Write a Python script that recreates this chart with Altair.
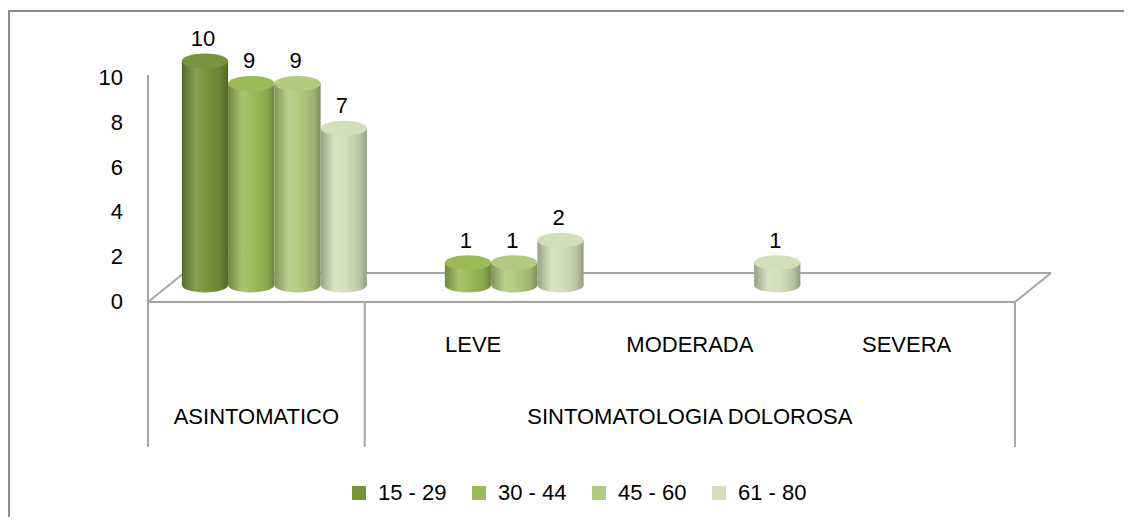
import altair as alt
import pandas as pd

# ---------------- data ----------------
categories = ["ASINTOMATICO", "LEVE", "MODERADA", "SEVERA"]
series = ["15 - 29", "30 - 44", "45 - 60", "61 - 80"]
v_15_29 = [10, 0, 0, 0]
v_30_44 = [9, 1, 0, 0]
v_45_60 = [9, 1, 0, 0]
v_61_80 = [7, 2, 1, 0]
y_ticks = [0, 2, 4, 6, 8, 10]
sub_labels = ["LEVE", "MODERADA", "SEVERA"]
group_labels = ["ASINTOMATICO", "SINTOMATOLOGIA DOLOROSA"]
group_anchor = ["ASINTOMATICO", "MODERADA"]
colors = ["#77933C", "#9BBB59", "#B3CB80", "#D3DFBB"]

values = [v_15_29, v_30_44, v_45_60, v_61_80]
rows = []
for s, vals in zip(series, values):
    for c, v in zip(categories, vals):
        rows.append({"cat": c, "series": s, "value": v})
df = pd.DataFrame(rows)

# ---------------- layout / style ----------------
W, H = 1116, 509
X0, X1 = 140, 1007          # front floor edge (view px)
Y0, YTOP = 294, 70          # value 0 and value 10 (view px)
DX, DY = 36, -29            # 3-D depth of the floor
BX, BY = 18, -17            # cylinders sit at mid depth
SEP_BOTTOM = 439
STEP = (X1 - X0) / 4
XMID = X0 + STEP
FONT = "Liberation Sans"
FS = 22
LINE = "#A6A6A6"
BORDER = "#8C8C8C"
PAD_OUT = 0.343

xs = alt.Scale(domain=categories, range=[X0, X1], paddingInner=0, paddingOuter=0)
# offset scale shifted by the depth offset of the cylinders
xo = alt.Scale(domain=series, range=[BX, BX + STEP], paddingInner=0, paddingOuter=PAD_OUT)
ys = alt.Scale(domain=[0, 10], range=[Y0, YTOP], nice=False, zero=False)


def shade(hx, f):
    hx = hx.lstrip("#")
    r, g, b = int(hx[0:2], 16), int(hx[2:4], 16), int(hx[4:6], 16)
    if f >= 0:
        r, g, b = [int(round(v + (255 - v) * f)) for v in (r, g, b)]
    else:
        r, g, b = [int(round(v * (1 + f))) for v in (r, g, b)]
    return "#%02x%02x%02x" % (r, g, b)


def cyl_gradient(c):
    stops = [(0.0, shade(c, -0.28)), (0.3, shade(c, 0.12)), (0.55, c),
             (0.85, shade(c, -0.12)), (1.0, shade(c, -0.3))]
    return alt.Gradient(gradient="linear", x1=0, x2=1, y1=0, y2=0,
                        stops=[alt.GradientStop(offset=o, color=col) for o, col in stops])


ELLIPSE = "M -1 0 A 1 0.32 0 1 0 1 0 A 1 0.32 0 1 0 -1 0 Z"
bw = STEP / (4 + 2 * PAD_OUT)
ESIZE = bw * bw

one = pd.DataFrame({"k": [0]})


def seg(x1, y1, x2, y2, color=LINE, w=2):
    return alt.Chart(one).mark_rule(color=color, strokeWidth=w).encode(
        x=alt.value(x1), x2=alt.value(x2), y=alt.value(y1), y2=alt.value(y2))


layers = []
# chart border (top + left)
layers.append(seg(0, 3, W, 3, BORDER, 2))
layers.append(seg(1, 3, 1, H, BORDER, 2))
# floor and walls
layers.append(seg(X0, Y0, X1, Y0))
layers.append(seg(X0 + DX, Y0 + DY, X1 + DX, Y0 + DY))
layers.append(seg(X0, Y0, X0 + DX, Y0 + DY))
layers.append(seg(X1, Y0, X1 + DX, Y0 + DY))
layers.append(seg(X0, YTOP - 3, X0, SEP_BOTTOM))
layers.append(seg(XMID, Y0, XMID, SEP_BOTTOM))
layers.append(seg(X1, Y0, X1, SEP_BOTTOM))

# y tick labels
layers.append(alt.Chart(pd.DataFrame({"t": y_ticks})).mark_text(
    align="right", baseline="middle", font=FONT, fontSize=FS, color="#000000").encode(
    x=alt.value(115), y=alt.Y("t:Q", scale=ys, axis=None), text=alt.Text("t:Q")))

# category labels
layers.append(alt.Chart(pd.DataFrame({"cat": sub_labels})).mark_text(
    baseline="middle", font=FONT, fontSize=FS, color="#000000").encode(
    x=alt.X("cat:N", scale=xs, axis=None), y=alt.value(337), text="cat:N"))
layers.append(alt.Chart(pd.DataFrame({"cat": group_anchor, "lab": group_labels})).mark_text(
    baseline="middle", font=FONT, fontSize=FS, color="#000000").encode(
    x=alt.X("cat:N", scale=xs, axis=None), y=alt.value(409), text="lab:N"))

base = alt.Chart(df).transform_filter("datum.value > 0")

# bottom ellipses
for s, c in zip(series, colors):
    layers.append(base.transform_filter(alt.datum.series == s).transform_calculate(
        zero="0").mark_point(
        shape=ELLIPSE, size=ESIZE, filled=True, opacity=1, strokeWidth=0,
        fill=cyl_gradient(c), yOffset=BY).encode(
        x=alt.X("cat:N", scale=xs, axis=None),
        xOffset=alt.XOffset("series:N", scale=xo),
        y=alt.Y("zero:Q", scale=ys, axis=None)))

# cylinder bodies
for s, c in zip(series, colors):
    layers.append(base.transform_filter(alt.datum.series == s).mark_bar(
        fill=cyl_gradient(c), yOffset=BY, y2Offset=BY).encode(
        x=alt.X("cat:N", scale=xs, axis=None),
        xOffset=alt.XOffset("series:N", scale=xo),
        y=alt.Y("value:Q", scale=ys, axis=None),
        y2=alt.datum(0)))

# cylinder tops (carry the legend)
layers.append(base.mark_point(
    shape=ELLIPSE, size=ESIZE, filled=True, opacity=1, strokeWidth=0,
    yOffset=BY).encode(
    x=alt.X("cat:N", scale=xs, axis=None),
    xOffset=alt.XOffset("series:N", scale=xo),
    y=alt.Y("value:Q", scale=ys, axis=None),
    color=alt.Color("series:N", scale=alt.Scale(domain=series, range=colors),
                    legend=alt.Legend(orient="none", legendX=340, legendY=474,
                                      direction="horizontal", title=None,
                                      symbolType="square", symbolSize=196,
                                      symbolStrokeWidth=0, symbolOpacity=1,
                                      labelFont=FONT, labelFontSize=FS,
                                      labelColor="#000000", labelOffset=8,
                                      columnPadding=21, padding=0))))

# value labels
layers.append(base.mark_text(
    baseline="middle", font=FONT, fontSize=FS, color="#000000",
    dx=-2, yOffset=BY - 22).encode(
    x=alt.X("cat:N", scale=xs, axis=None),
    xOffset=alt.XOffset("series:N", scale=xo),
    y=alt.Y("value:Q", scale=ys, axis=None),
    text=alt.Text("value:Q")))

chart = alt.layer(*layers).properties(
    width=W, height=H, autosize=alt.AutoSizeParams(type="none"), padding=0
).configure_view(stroke=None)

chart.save("out.html", embed_options={"renderer": "svg", "actions": False})
